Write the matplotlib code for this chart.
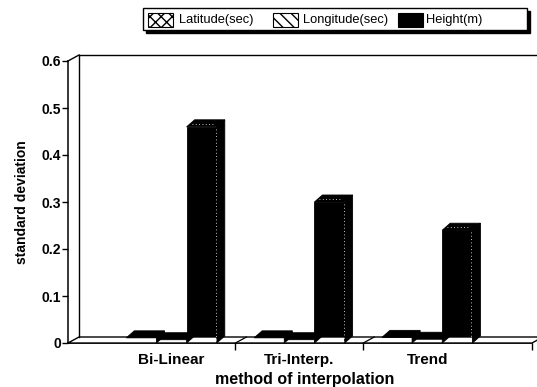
import matplotlib
matplotlib.use('Agg')
import matplotlib.pyplot as plt
from matplotlib.patches import Polygon, Rectangle
from matplotlib.lines import Line2D
from matplotlib.transforms import IdentityTransform

# ---------------- data ----------------
categories = ['Bi-Linear', 'Tri-Interp.', 'Trend']
series_names = ['Latitude(sec)', 'Longitude(sec)', 'Height(m)']
latitude = [0.011, 0.011, 0.012]
longitude = [0.007, 0.007, 0.008]
height = [0.46, 0.30, 0.24]
y_ticks = [0, 0.1, 0.2, 0.3, 0.4, 0.5, 0.6]
y_tick_labels = ['0', '0.1', '0.2', '0.3', '0.4', '0.5', '0.6']
x_label = 'method of interpolation'
y_label = 'standard deviation'

# ---------------- style ----------------
plt.rcParams['font.family'] = ['Liberation Sans', 'DejaVu Sans']
plt.rcParams['hatch.linewidth'] = 1.0

W, H, DPI = 537, 387, 100
fig = plt.figure(figsize=(W / DPI, H / DPI), dpi=DPI)
fig.patch.set_facecolor('white')

AX_L, AX_R, AX_B, AX_T = 68, 532, 343, 61   # pixels, y measured from top
ax = fig.add_axes([AX_L / W, (H - AX_B) / H, (AX_R - AX_L) / W, (AX_B - AX_T) / H])
ax.set_xlim(-0.81, 2.82)
ax.set_ylim(0, 0.6)
ax.patch.set_visible(False)
for s in ['top', 'right']:
    ax.spines[s].set_visible(False)
ax.spines['left'].set_linewidth(1.1)
ax.spines['bottom'].set_linewidth(1.1)
ax.spines['left'].set_zorder(30)
ax.spines['bottom'].set_zorder(30)

WALL_D = (11, 6)   # depth offset of the back wall, pixels
BAR_D = (8, 7)     # depth offset of the bars, pixels

ident = IdentityTransform()


def disp(p, d=(0, 0), trans=None):
    t = trans if trans is not None else ax.transAxes
    x, y = t.transform(p)
    return (x + d[0], y + d[1])


# walls / floor
floor = Polygon([disp((0, 0)), disp((1, 0)), disp((1, 0), WALL_D), disp((0, 0), WALL_D)],
                closed=True, facecolor='white', edgecolor='black', lw=1.0,
                transform=ident, clip_on=False, zorder=2)
fig.add_artist(floor)
for seg in [
    [disp((0, 0), WALL_D), disp((0, 1), WALL_D)],
    [disp((0, 1), WALL_D), disp((1.05, 1), WALL_D)],
    [disp((0, 1)), disp((0, 1), WALL_D)],
]:
    fig.add_artist(Line2D([seg[0][0], seg[1][0]], [seg[0][1], seg[1][1]], color='black',
                          lw=1.0, transform=ident, zorder=2))

# floor dividers at category boundaries
boundaries = [0.5, 1.5]
for b in boundaries:
    p0 = disp((b, 0), trans=ax.transData)
    p1 = (p0[0] + WALL_D[0], p0[1] + WALL_D[1])
    fig.add_artist(Line2D([p0[0], p1[0]], [p0[1], p1[1]], color='black', lw=0.9,
                          transform=ident, zorder=2))

# ---------------- bars ----------------
series = [latitude, longitude, height]
faces = ['white', 'white', 'black']
hatches = ['xxx', '\\\\\\', None]
bw = 0.236
offsets = [-bw, 0, bw]

z = 5
for ci in range(len(categories)):
    for si, vals in enumerate(series):
        x = ci + offsets[si]
        rect = ax.bar([x], [vals[ci]], width=bw, color=faces[si], hatch=hatches[si],
                      edgecolor='black', linewidth=0.6, zorder=z + 2)[0]
        x0, y0 = rect.get_x(), rect.get_y()
        x1, y1 = x0 + rect.get_width(), y0 + rect.get_height()
        fl = disp((x0, y1), trans=ax.transData)
        fr = disp((x1, y1), trans=ax.transData)
        br = disp((x1, y0), trans=ax.transData)
        dx, dy = BAR_D
        top = Polygon([fl, fr, (fr[0] + dx, fr[1] + dy), (fl[0] + dx, fl[1] + dy)],
                      closed=True, facecolor='black', edgecolor='black', lw=0.6,
                      transform=ident, zorder=z)
        side = Polygon([br, (br[0] + dx, br[1] + dy), (fr[0] + dx, fr[1] + dy), fr],
                       closed=True, facecolor='black', edgecolor='black', lw=0.6,
                       transform=ident, zorder=z)
        fig.add_artist(top)
        fig.add_artist(side)
        if faces[si] == 'black':
            fig.add_artist(Line2D([fr[0] - 1, br[0] - 1], [fr[1] - 2, br[1] + 2], color='white',
                                  lw=0.6, ls=(0, (1, 3)), transform=ident, zorder=z + 3))
            fig.add_artist(Line2D([fl[0] + 5, fr[0] - 4], [fl[1] + 3, fr[1] + 3], color='white',
                                  lw=0.6, ls=(0, (1, 3)), transform=ident, zorder=z + 3))
        z += 3

# ---------------- axes / ticks ----------------
ax.set_yticks(y_ticks)
ax.set_yticklabels(y_tick_labels, fontsize=10, fontweight='bold')
ax.tick_params(axis='y', direction='out', length=4, width=1.0, pad=1)
ax.set_xticks(range(len(categories)))
ax.set_xticklabels(categories, fontsize=11, fontweight='bold', va='baseline')
ax.tick_params(axis='x', which='major', length=0, pad=15)
ax.set_xticks(boundaries + [2.82], minor=True)
ax.tick_params(axis='x', which='minor', direction='out', length=5, width=1.0)
ax.set_xlabel(x_label, fontsize=11.5, fontweight='bold')
ax.xaxis.label.set_va('baseline')
ax.xaxis.set_label_coords(0.51, -(384 - AX_B) / (AX_B - AX_T))
ax.set_ylabel(y_label, fontsize=10, fontweight='bold', labelpad=9)

# ---------------- legend (drawn manually) ----------------
def fx(px):
    return px / W


def fy(py):
    return 1 - py / H


LG_L, LG_R, LG_T, LG_B = 143, 527, 8, 30
fig.add_artist(Rectangle((fx(LG_L + 3), fy(LG_B + 3)), fx(LG_R - LG_L), (LG_B - LG_T) / H,
                         transform=fig.transFigure, facecolor='black', edgecolor='black', zorder=40))
fig.add_artist(Rectangle((fx(LG_L), fy(LG_B)), fx(LG_R - LG_L), (LG_B - LG_T) / H,
                         transform=fig.transFigure, facecolor='white', edgecolor='black',
                         lw=1.0, zorder=41))
sw_x = [148, 273, 398]
tx_x = [179, 303, 426]
for i, name in enumerate(series_names):
    fig.add_artist(Rectangle((fx(sw_x[i]), fy(27)), fx(25), 14 / H, transform=fig.transFigure,
                             facecolor=faces[i], hatch=hatches[i],
                             edgecolor='black', lw=0.8, zorder=42))
    fig.text(fx(tx_x[i]), fy(20), name, fontsize=9.3, va='center', ha='left', zorder=43)

fig.savefig('out.png', dpi=DPI, facecolor='white')
